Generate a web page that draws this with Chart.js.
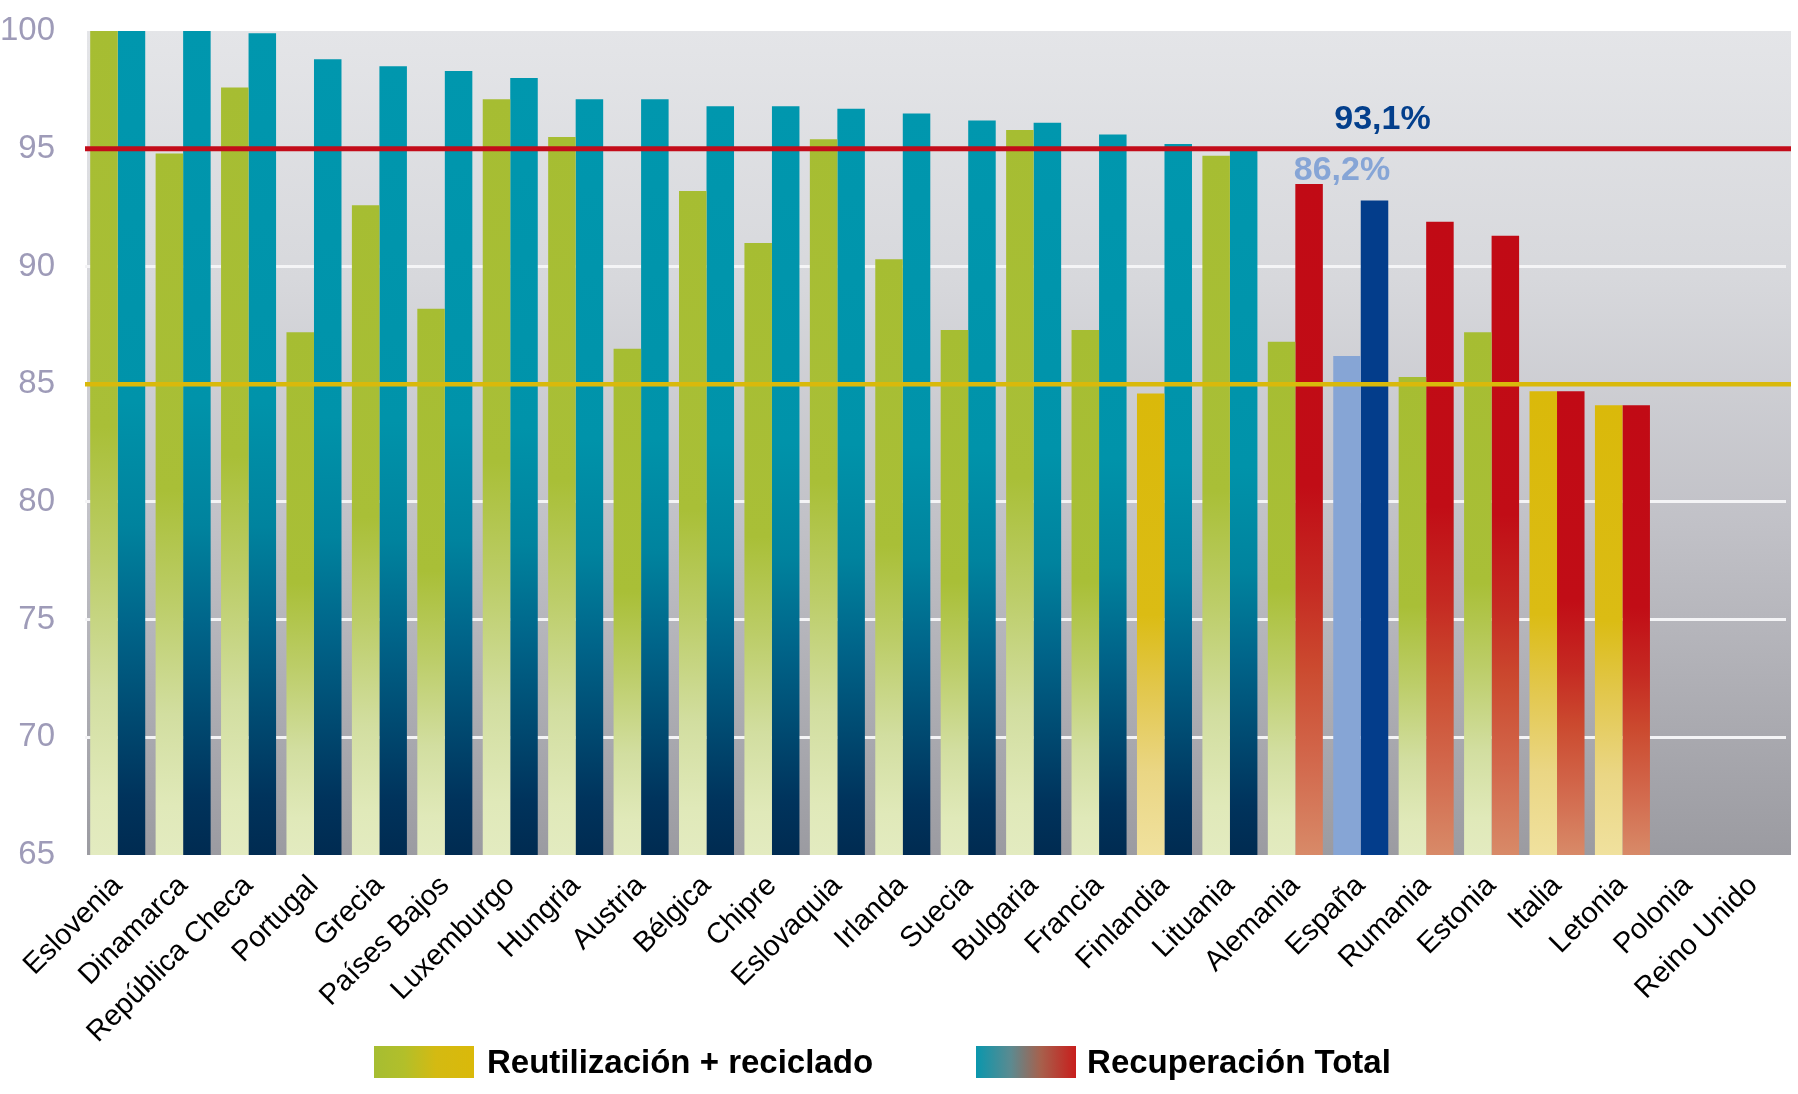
<!DOCTYPE html>
<html lang="es">
<head>
<meta charset="utf-8">
<title>Reutilización + reciclado y Recuperación Total</title>
<script src="https://cdn.jsdelivr.net/npm/chart.js@4.4.1/dist/chart.umd.min.js"></script>
<style>
  body { margin: 0; background: #fff; }
  #wrap { position: relative; width: 1798px; height: 1094px; }
  #legend {
    position: absolute; left: 374px; top: 1043px;
    display: flex; align-items: center;
    font: bold 33px "Liberation Sans", Arial, sans-serif; color: #000;
  }
  .box { width: 100px; height: 32px; margin-right: 13px; }
  .box.rr { background: linear-gradient(to right, #a6bd32 0%, #b2bf2a 30%, #d4ba12 62%, #dab90a 100%); }
  .box.rt { background: linear-gradient(to right, #0a97ad 0%, #5c8a90 35%, #a7604c 65%, #c81e1c 100%); margin-left: 103px; margin-right: 11px; }
</style>
</head>
<body>
<div id="wrap">
  <canvas id="residuosChart" width="1798" height="1094"></canvas>
  <div id="legend">
    <div class="box rr"></div><span>Reutilización + reciclado</span>
    <div class="box rt"></div><span>Recuperación Total</span>
  </div>
</div>
<script>
// datos
var categories = [
	'Eslovenia', 'Dinamarca', 'República Checa', 'Portugal', 'Grecia',
	'Países Bajos', 'Luxemburgo', 'Hungria', 'Austria', 'Bélgica',
	'Chipre', 'Eslovaquia', 'Irlanda', 'Suecia', 'Bulgaria',
	'Francia', 'Finlandia', 'Lituania', 'Alemania', 'España',
	'Rumania', 'Estonia', 'Italia', 'Letonia', 'Polonia', 'Reino Unido'
];
var reciclado = [
	100, 94.8, 97.6, 87.2, 92.6,
	88.2, 97.1, 95.5, 86.5, 93.2,
	91.0, 95.4, 90.3, 87.3, 95.8,
	87.3, 84.6, 94.7, 86.8, 86.2,
	85.3, 87.2, 84.7, 84.1, null, null
];
var recuperacion = [
	100, 100, 99.9, 98.8, 98.5,
	98.3, 98.0, 97.1, 97.1, 96.8,
	96.8, 96.7, 96.5, 96.2, 96.1,
	95.6, 95.2, 95.0, 93.5, 92.8,
	91.9, 91.3, 84.7, 84.1, null, null
];
var yTicks = [65, 70, 75, 80, 85, 90, 95, 100];
var objetivoRecuperacion = 95;
var objetivoReciclado = 85;
var destacado = 'España';
var etiquetasDestacado = ['86,2%', '93,1%'];

// colores
var VERDE = [[0, '#a6bd32'], [0.48, '#a9bf37'], [0.64, '#bccd68'], [0.8, '#d2dea0'], [0.93, '#e0e9b9'], [1, '#e3ebc0']];
var AMARILLO = [[0, '#dab90a'], [0.48, '#dbbc14'], [0.64, '#e2c74c'], [0.82, '#ead684'], [1, '#f0e19e']];
var TURQUESA = [[0, '#0097ae'], [0.45, '#0093aa'], [0.6, '#00839e'], [0.72, '#00658a'], [0.83, '#004b72'], [0.93, '#00335c'], [1, '#002b51']];
var ROJO = [[0, '#c10a15'], [0.45, '#c10d16'], [0.6, '#c52a22'], [0.72, '#cb4a2f'], [0.86, '#d2684c'], [1, '#d88a68']];

Chart.defaults.font.family = '"Liberation Sans", Arial, sans-serif';

function barFill(c, stops) {
	var chart = c.chart;
	if (c.raw == null || !chart.chartArea) return stops[0][1];
	var y = chart.scales.y;
	var top = y.getPixelForValue(c.raw);
	var bottom = y.getPixelForValue(y.min);
	var g = chart.ctx.createLinearGradient(0, top, 0, bottom);
	stops.forEach(function(s) { g.addColorStop(s[0], s[1]); });
	return g;
}

var marcas = {
	id: 'marcas',
	beforeDraw: function(chart) {
		var ctx = chart.ctx, a = chart.chartArea;
		var g = ctx.createLinearGradient(0, a.top, 0, a.bottom);
		g.addColorStop(0, '#e4e5e8');
		g.addColorStop(0.3, '#d7d8dc');
		g.addColorStop(0.6, '#c1c1c7');
		g.addColorStop(1, '#9b9ba1');
		ctx.save();
		ctx.fillStyle = g;
		ctx.fillRect(a.left + 2, a.top, a.right - a.left + 3, a.bottom - a.top);
		ctx.restore();
	},
	afterDatasetsDraw: function(chart) {
		var ctx = chart.ctx, a = chart.chartArea, y = chart.scales.y;
		ctx.save();
		[[objetivoRecuperacion, '#c30c1a', 5], [objetivoReciclado, '#d9b90b', 4.5]].forEach(function(l) {
			var py = y.getPixelForValue(l[0]);
			ctx.strokeStyle = l[1];
			ctx.lineWidth = l[2];
			ctx.beginPath();
			ctx.moveTo(a.left, py);
			ctx.lineTo(a.right + 5, py);
			ctx.stroke();
		});
		var i = categories.indexOf(destacado);
		var b0 = chart.getDatasetMeta(0).data[i];
		var b1 = chart.getDatasetMeta(1).data[i];
		var yr = y.getPixelForValue(objetivoRecuperacion);
		ctx.font = 'bold 34px "Liberation Sans", Arial, sans-serif';
		ctx.textAlign = 'center';
		ctx.textBaseline = 'alphabetic';
		ctx.fillStyle = '#033f8c';
		ctx.fillText(etiquetasDestacado[1], b1.x + 8, yr - 20);
		ctx.fillStyle = '#86a5d6';
		ctx.fillText(etiquetasDestacado[0], b0.x - 5, yr + 31);
		ctx.restore();
	}
};

var config = {
	type: 'bar',
	data: {
		labels: categories,
		datasets: [{
			label: 'Reutilización + reciclado',
			data: reciclado,
			backgroundColor: function(c) {
				if (c.type !== 'data') return '#a6bd32';
				if (categories[c.dataIndex] === destacado) return '#86a5d5';
				return barFill(c, c.raw < objetivoReciclado ? AMARILLO : VERDE);
			}
		}, {
			label: 'Recuperación Total',
			data: recuperacion,
			backgroundColor: function(c) {
				if (c.type !== 'data') return '#0097ae';
				if (categories[c.dataIndex] === destacado) return '#033d8b';
				return barFill(c, c.raw < objetivoRecuperacion ? ROJO : TURQUESA);
			}
		}]
	},
	options: {
		responsive: false,
		animation: false,
		layout: { padding: { top: 31, right: 12, bottom: 0, left: 0 } },
		datasets: { bar: { categoryPercentage: 0.841, barPercentage: 1.0, borderWidth: 0 } },
		plugins: {
			legend: { display: false },
			tooltip: { enabled: false }
		},
		scales: {
			x: {
				grid: { display: false },
				border: { display: false },
				ticks: {
					autoSkip: false,
					maxRotation: 45,
					minRotation: 45,
					padding: 6,
					color: '#000',
					font: { size: 29 }
				},
				afterFit: function(s) { s.height = 239; }
			},
			y: {
				min: 65,
				max: 100,
				border: { display: false },
				grid: {
					drawTicks: false,
					lineWidth: 3,
					color: function(c) {
						var v = c.tick ? c.tick.value : 0;
						return (v > 65 && v < 100) ? '#f4f4f6' : 'rgba(0,0,0,0)';
					}
				},
				ticks: {
					padding: 30,
					color: '#9e9bb8',
					font: { size: 33 }
				},
				afterBuildTicks: function(s) {
					s.ticks = yTicks.map(function(v) { return { value: v }; });
				},
				afterFit: function(s) {
					s.width = 85;
					s.paddingTop = 0;
					s.paddingBottom = 0;
				}
			}
		}
	},
	plugins: [marcas]
};

window.onload = function() {
	var ctx = document.getElementById('residuosChart').getContext('2d');
	window.myBar = new Chart(ctx, config);
};
</script>
</body>
</html>
